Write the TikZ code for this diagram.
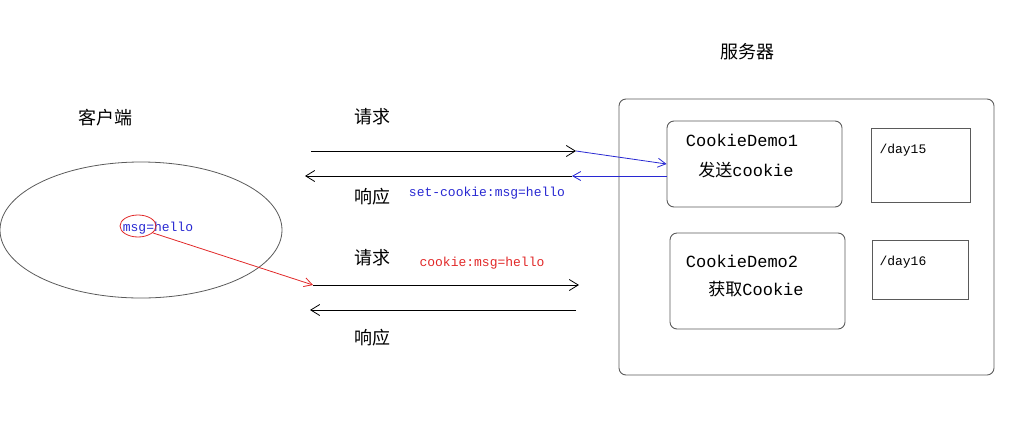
\documentclass[tikz,border=0pt]{standalone}
\usepackage{fontspec}
\newfontfamily\cjk{Noto Sans CJK SC}
\newfontfamily\mono{Liberation Mono}
\usetikzlibrary{arrows.meta,shapes.geometric}

\definecolor{linkblue}{RGB}{40,40,210}
\definecolor{cookiered}{RGB}{225,40,40}
\definecolor{frame}{RGB}{90,90,90}

\begin{document}
\begin{tikzpicture}[x=1pt,y=-1pt,
  box/.style={draw=frame,rounded corners=7pt,line width=0.9pt,inner sep=0pt},
  path/.style={draw=frame,line width=0.9pt,inner sep=0pt},
  zh/.style={font=\cjk\fontsize{18}{20}\selectfont},
  code/.style={font=\mono\fontsize{13}{15}\selectfont},
  big/.style={font=\mono\fontsize{17}{20}\selectfont},
  msg/.style={line width=0.8pt,-{Straight Barb[length=9pt,width=11pt]}},
  back/.style={line width=0.8pt,color=linkblue,-{Straight Barb[length=8pt,width=9pt]}}]
\useasboundingbox (0,0) rectangle (1027,429);

% client side
\node[zh] (clilabel) at (105,118) {客户端};
\node[draw=frame,ellipse,line width=0.8pt,minimum width=282pt,minimum height=136pt] (client) at (141,230) {};
\node[code,text=linkblue] (store) at (158,228) {msg=hello};
\node[draw=cookiered,ellipse,line width=0.8pt,minimum width=36pt,minimum height=22pt] (ring) at (138,226) {};

% request / response lines
\coordinate (req1a) at (311,151);
\coordinate (req1b) at (576,151);
\coordinate (res1a) at (572,176);
\coordinate (res1b) at (305,176);
\coordinate (req2a) at (313,285);
\coordinate (req2b) at (579,285);
\coordinate (res2a) at (576,310);
\coordinate (res2b) at (310,310);
\draw[msg] (req1a) -- (req1b);
\draw[msg] (res1a) -- (res1b);
\draw[msg] (req2a) -- (req2b);
\draw[msg] (res2a) -- (res2b);

\node[zh] (ask1) at (372,117) {请求};
\node[zh] (ans1) at (372,197) {响应};
\node[zh] (ask2) at (372,258) {请求};
\node[zh] (ans2) at (372,338) {响应};
\node[code,text=linkblue] (setck) at (487,193) {set-cookie:msg=hello};
\node[code,text=cookiered] (sendck) at (482,263) {cookie:msg=hello};

% server side
\node[zh] (srvlabel) at (747,52) {服务器};
\node[box,minimum width=375pt,minimum height=276pt] (server) at (806.5,237) {};
\node[box,minimum width=175pt,minimum height=86pt] (demo1) at (754.5,164) {};
\node[box,minimum width=175pt,minimum height=96pt] (demo2) at (757.5,281) {};
\node[path,minimum width=99pt,minimum height=74pt] (day15) at (920.5,165) {};
\node[path,minimum width=96pt,minimum height=59pt] (day16) at (920,269.5) {};

\node[big] (name1) at (742,140) {CookieDemo1};
\node[big] (act1) at (746,170) {{\cjk 发送}cookie};
\node[big] (name2) at (742,261) {CookieDemo2};
\node[big] (act2) at (756,289) {{\cjk 获取}Cookie};
\node[code,anchor=west] (path15) at (876,150) {/day15};
\node[code,anchor=west] (path16) at (876,262) {/day16};

% cookie flow
\draw[back] (req1b) -- (demo1.west);
\draw[back] ([yshift=-12pt]demo1.west) -- (res1a);
\draw[line width=0.8pt,color=cookiered,-{Straight Barb[length=8pt,width=9pt]}] (ring.-25) -- (req2a);
\end{tikzpicture}
\end{document}
